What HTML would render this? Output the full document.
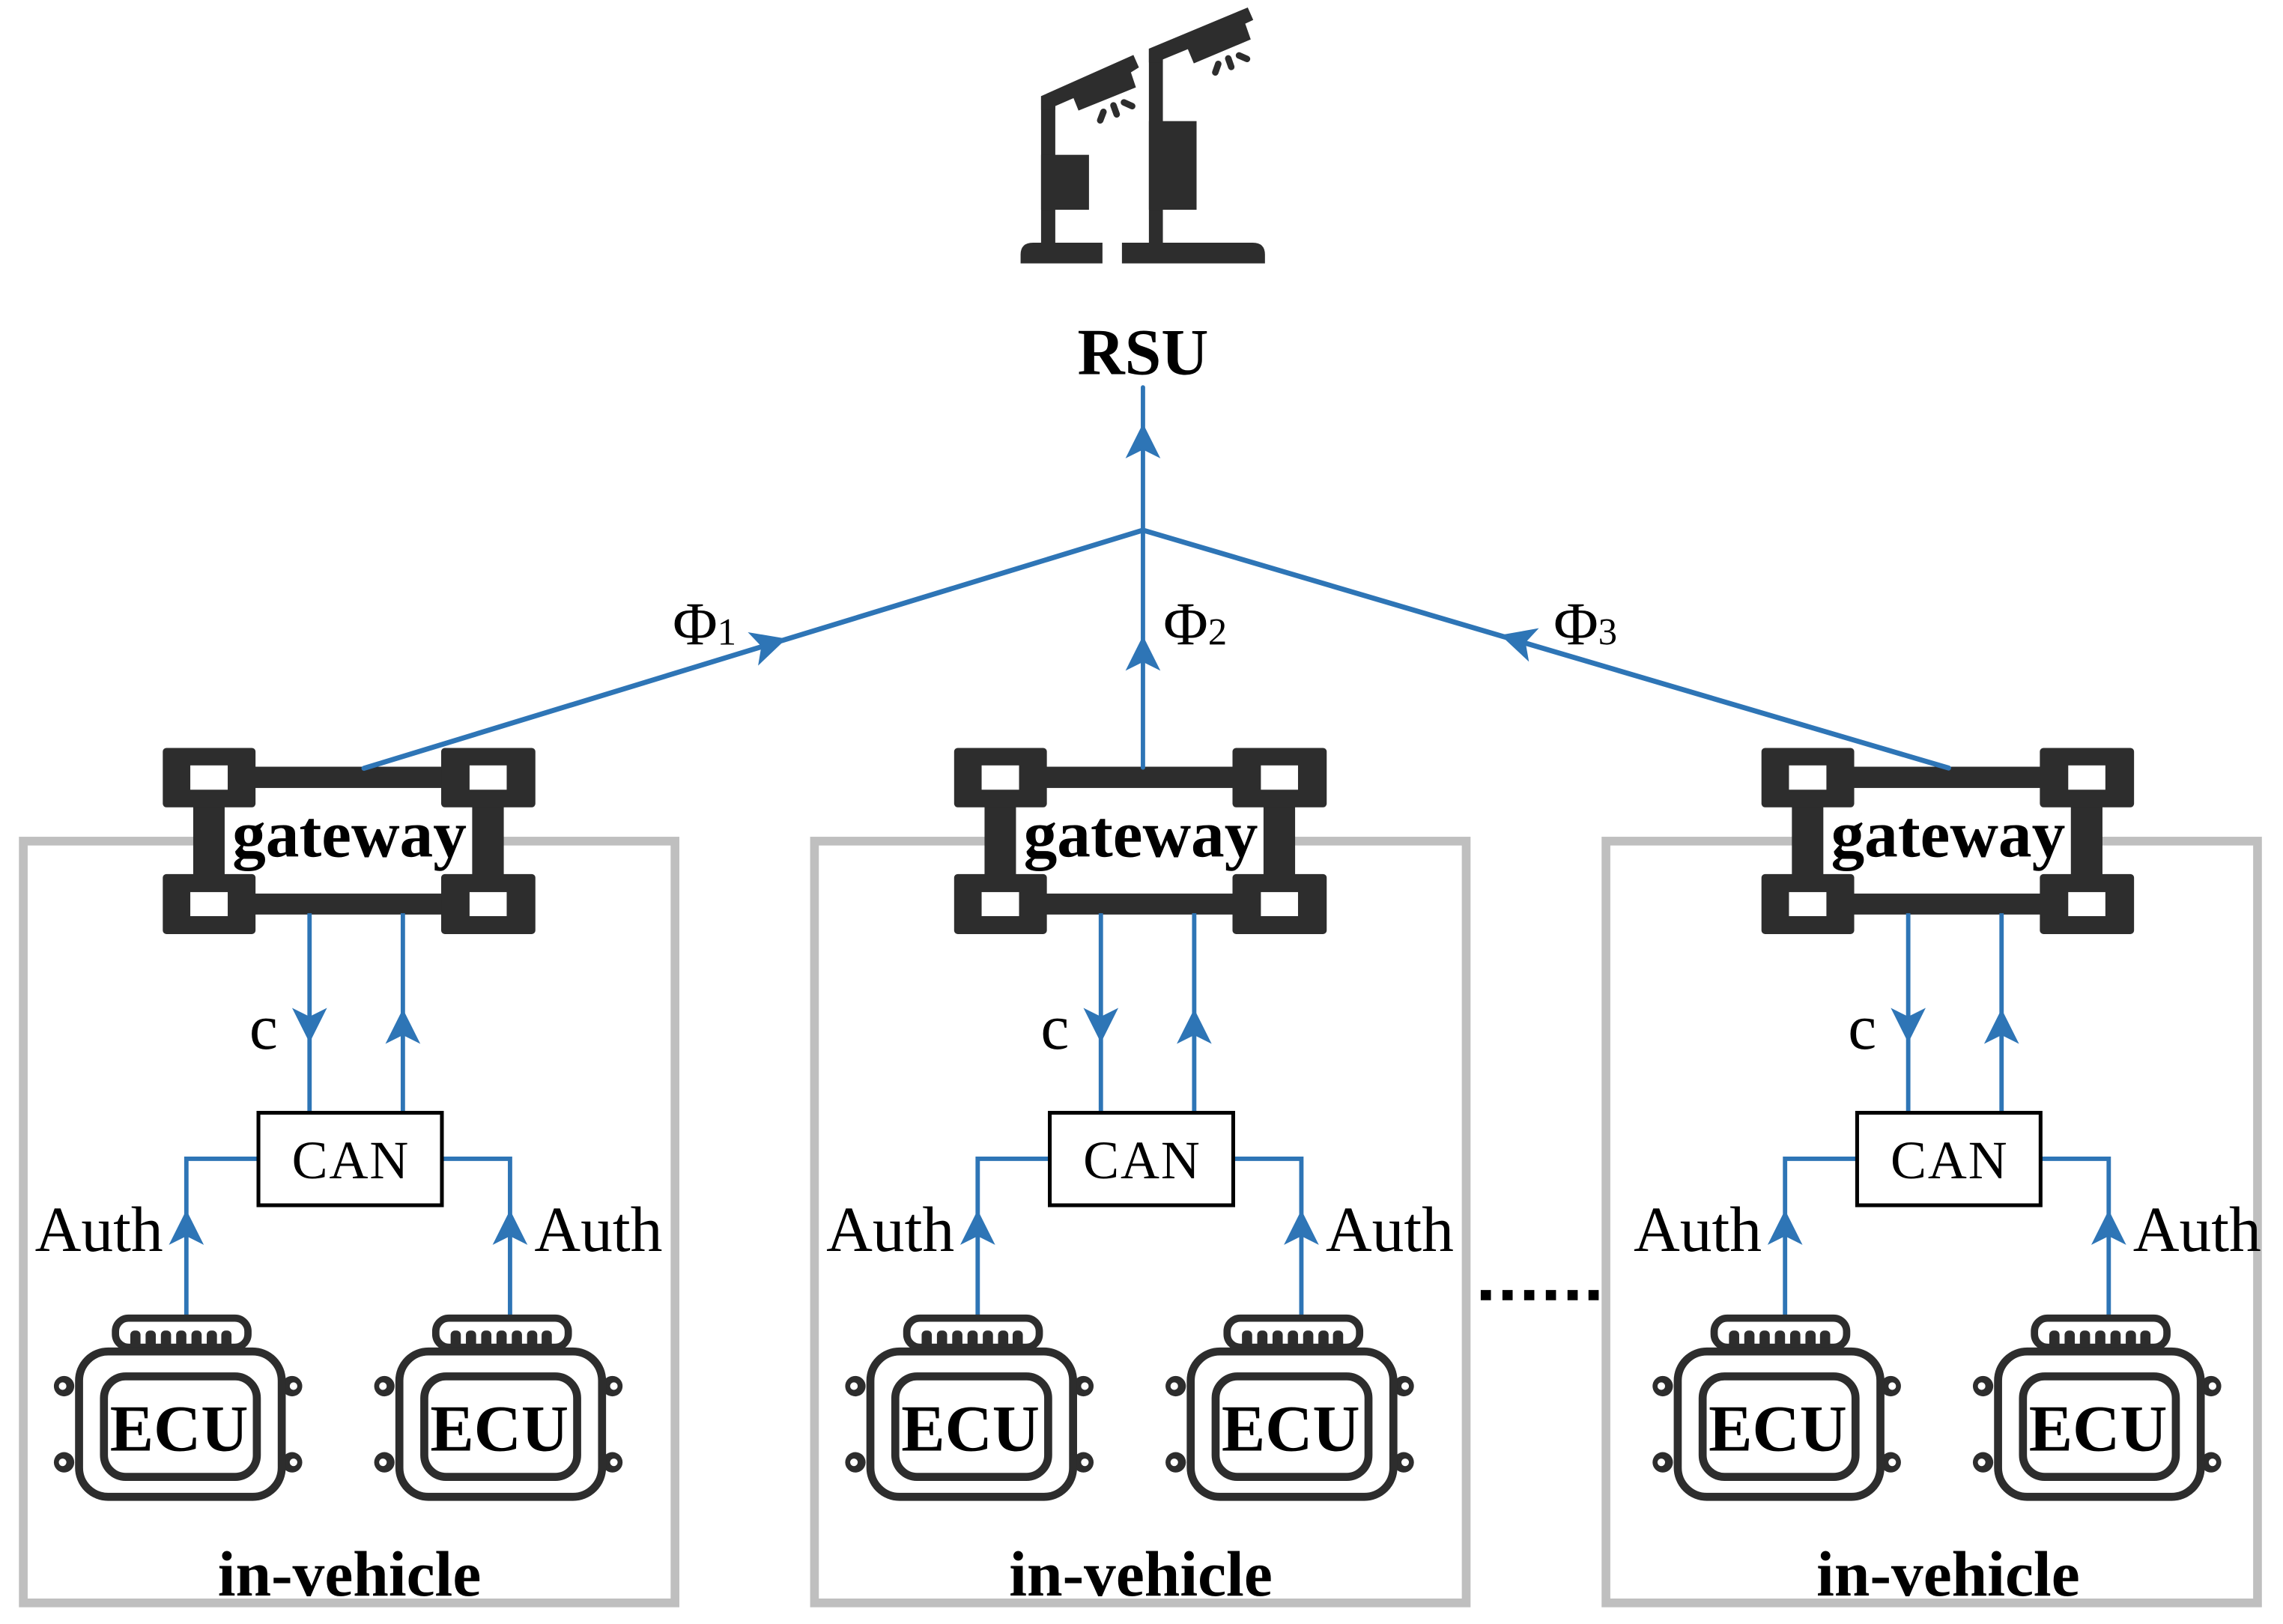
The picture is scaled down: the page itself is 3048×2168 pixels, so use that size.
<!DOCTYPE html>
<html><head><meta charset="utf-8"><style>
html,body{margin:0;padding:0;background:#fff;}
svg{display:block;}
text{font-family:"Liberation Serif",serif;}
</style></head><body>
<svg width="3048" height="2168" viewBox="0 0 1568 1115" preserveAspectRatio="none" xmlns="http://www.w3.org/2000/svg">
<defs>
<path id="ah" d="M0,0 L-24,-12 L-18,0 L-24,12 Z" fill="#2e75b6"/>
<g id="ecu">
  <rect x="79.3" y="905" width="91" height="20" rx="9" fill="none" stroke="#2d2d2d" stroke-width="5"/>
  <g fill="#2d2d2d">
    <rect x="89.5" y="913.5" width="7" height="12" rx="3"/>
    <rect x="100" y="913.5" width="7" height="12" rx="3"/>
    <rect x="110.5" y="913.5" width="7" height="12" rx="3"/>
    <rect x="121" y="913.5" width="7" height="12" rx="3"/>
    <rect x="131.5" y="913.5" width="7" height="12" rx="3"/>
    <rect x="142" y="913.5" width="7" height="12" rx="3"/>
    <rect x="152" y="913.5" width="7" height="12" rx="3"/>
    <circle cx="44" cy="951.7" r="7"/><circle cx="44" cy="1004" r="7"/>
    <circle cx="200.6" cy="951.7" r="7"/><circle cx="200.6" cy="1004" r="7"/>
  </g>
  <g fill="#fff">
    <circle cx="43" cy="951.7" r="2.6"/><circle cx="43" cy="1004" r="2.6"/>
    <circle cx="201.6" cy="951.7" r="2.6"/><circle cx="201.6" cy="1004" r="2.6"/>
  </g>
  <rect x="54.3" y="927.9" width="139.2" height="99.8" rx="20" fill="#fff" stroke="#2d2d2d" stroke-width="5.5"/>
  <rect x="71.4" y="945" width="105" height="69" rx="15" fill="#fff" stroke="#2d2d2d" stroke-width="5.5"/>
  <text x="123" y="996" font-size="45" font-weight="bold" text-anchor="middle">ECU</text>
</g>
<g id="grp">
  <rect x="154" y="541" width="171" height="73" fill="#fff"/>
  <g fill="#2d2d2d">
    <rect x="111.8" y="513.5" width="63.7" height="40.8" rx="2.5"/>
    <rect x="303" y="513.5" width="64.7" height="40.8" rx="2.5"/>
    <rect x="111.8" y="600.1" width="63.7" height="41.2" rx="2.5"/>
    <rect x="303" y="600.1" width="64.7" height="41.2" rx="2.5"/>
    <rect x="175" y="526.4" width="128.5" height="14.6"/>
    <rect x="175" y="613.5" width="128.5" height="14.4"/>
    <rect x="132.7" y="554" width="21.6" height="46.5"/>
    <rect x="324.3" y="554" width="21.7" height="46.5"/>
  </g>
  <g fill="#fff">
    <rect x="130.7" y="525.5" width="25.7" height="16.7"/>
    <rect x="322.5" y="525.5" width="25.5" height="16.7"/>
    <rect x="130.7" y="612.5" width="25.7" height="16.5"/>
    <rect x="322.5" y="612.5" width="25.5" height="16.5"/>
  </g>
  <text x="240" y="588" font-size="46" font-weight="bold" text-anchor="middle">gateway</text>
  <g stroke="#2e75b6" stroke-width="3" fill="none">
    <line x1="212.6" y1="627" x2="212.6" y2="763"/>
    <line x1="276.7" y1="627" x2="276.7" y2="763"/>
    <polyline points="177,795.6 128,795.6 128,905"/>
    <polyline points="304,795.6 350.3,795.6 350.3,905"/>
  </g>
  <use href="#ah" transform="translate(212.6,716) rotate(90)"/>
  <use href="#ah" transform="translate(276.7,692.7) rotate(-90)"/>
  <use href="#ah" transform="translate(128,830.7) rotate(-90)"/>
  <use href="#ah" transform="translate(350.3,830.7) rotate(-90)"/>
  <text x="181" y="720" font-size="44" text-anchor="middle">c</text>
  <rect x="177.5" y="764" width="126" height="63.5" fill="#fff" stroke="#000" stroke-width="2.6"/>
  <text x="241" y="809" font-size="37" text-anchor="middle" letter-spacing="1">CAN</text>
  <text x="68" y="859" font-size="44" text-anchor="middle">Auth</text>
  <text x="411" y="859" font-size="44" text-anchor="middle">Auth</text>
  <use href="#ecu"/>
  <use href="#ecu" x="220"/>
  <text x="240" y="1095.5" font-size="44" font-weight="bold" text-anchor="middle">in-vehicle</text>
</g>
</defs>

<g fill="none" stroke="#bfbfbf" stroke-width="6">
  <rect x="16" y="577.5" width="447.6" height="523"/>
  <rect x="559.4" y="577.5" width="447.6" height="523"/>
  <rect x="1103" y="577.5" width="447.5" height="523"/>
</g>

<use href="#grp"/>
<use href="#grp" x="543.5"/>
<use href="#grp" x="1098"/>

<g fill="#000">
  <rect x="1017" y="885.7" width="7" height="7"/>
  <rect x="1031.9" y="885.7" width="7" height="7"/>
  <rect x="1046.8" y="885.7" width="7" height="7"/>
  <rect x="1061.7" y="885.7" width="7" height="7"/>
  <rect x="1076.6" y="885.7" width="7" height="7"/>
  <rect x="1091" y="885.7" width="7" height="7"/>
</g>

<g stroke="#2e75b6" fill="none" stroke-linecap="round">
  <line x1="785" y1="266" x2="785" y2="527" stroke-width="3"/>
  <line x1="250" y1="527.5" x2="785" y2="364" stroke-width="3.5"/>
  <line x1="1338.3" y1="527.3" x2="785" y2="364" stroke-width="3.5"/>
</g>
<use href="#ah" transform="translate(785,290.7) rotate(-90)"/>
<use href="#ah" transform="translate(785,436.5) rotate(-90)"/>
<use href="#ah" transform="translate(540.1,438.5) rotate(-17.04)"/>
<use href="#ah" transform="translate(1030.5,436) rotate(-163.5)"/>
<text x="462" y="442.5" font-size="42">Φ<tspan font-size="26">1</tspan></text>
<text x="799" y="442.5" font-size="42">Φ<tspan font-size="26">2</tspan></text>
<text x="1067" y="442.5" font-size="42">Φ<tspan font-size="26">3</tspan></text>

<g transform="translate(689.3,0) scale(0.17144)" fill="#2d2d2d">
  <rect x="150" y="385" width="57" height="600"/>
  <rect x="150" y="620" width="192" height="220"/>
  <polygon points="150,385 520,220 542,270 510,290 530,350 300,443 280,393 207,425 207,440 150,440"/>
  <rect x="582" y="195" width="56" height="790"/>
  <rect x="582" y="485" width="191" height="355"/>
  <polygon points="582,195 978,30 1000,80 968,95 990,158 762,254 738,197 638,238 638,250 582,250"/>
  <path d="M68,1055 L68,1020 Q68,972 118,972 L396,972 L396,1055 Z"/>
  <path d="M474,972 L998,972 Q1047,972 1047,1020 L1047,1055 L474,1055 Z"/>
  <g stroke="#2d2d2d" stroke-width="26" stroke-linecap="round" fill="none">
    <line x1="400" y1="448" x2="387" y2="482"/>
    <line x1="440" y1="422" x2="453" y2="458"/>
    <line x1="482" y1="410" x2="515" y2="425"/>
    <line x1="860" y1="256" x2="848" y2="290"/>
    <line x1="900" y1="234" x2="912" y2="268"/>
    <line x1="943" y1="222" x2="975" y2="236"/>
  </g>
</g>
<text x="785" y="257" font-size="45" font-weight="bold" text-anchor="middle">RSU</text>
</svg>
</body></html>
